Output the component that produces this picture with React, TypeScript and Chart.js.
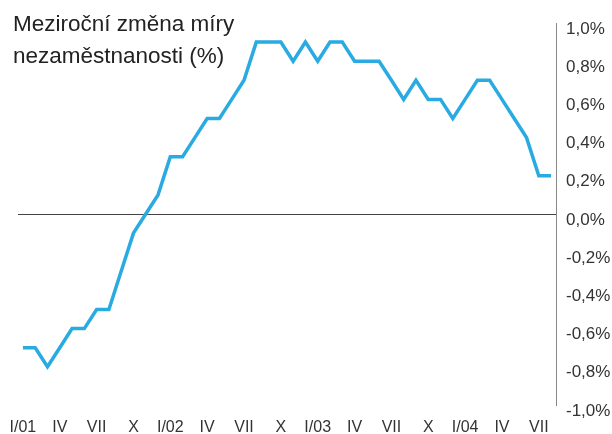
import React, { useEffect, useRef } from 'react';
import { Chart, registerables } from 'chart.js';

Chart.register(...registerables);

const months: string[] = [
  'I/01', 'II', 'III', 'IV', 'V', 'VI', 'VII', 'VIII', 'IX', 'X', 'XI', 'XII',
  'I/02', 'II', 'III', 'IV', 'V', 'VI', 'VII', 'VIII', 'IX', 'X', 'XI', 'XII',
  'I/03', 'II', 'III', 'IV', 'V', 'VI', 'VII', 'VIII', 'IX', 'X', 'XI', 'XII',
  'I/04', 'II', 'III', 'IV', 'V', 'VI', 'VII', 'VIII',
];

const values: number[] = [
  -0.7, -0.7, -0.8, -0.7, -0.6, -0.6, -0.5, -0.5, -0.3, -0.1, 0.0, 0.1,
  0.3, 0.3, 0.4, 0.5, 0.5, 0.6, 0.7, 0.9, 0.9, 0.9, 0.8, 0.9,
  0.8, 0.9, 0.9, 0.8, 0.8, 0.8, 0.7, 0.6, 0.7, 0.6, 0.6, 0.5,
  0.6, 0.7, 0.7, 0.6, 0.5, 0.4, 0.2, 0.2,
];

const yMin = -1.0;
const yMax = 1.0;
const yStep = 0.2;
const xTickEvery = 3;

const titleLines: string[] = ['Meziroční změna míry', 'nezaměstnanosti (%)'];

const FONT = "'Liberation Sans', Arial, Helvetica, sans-serif";

export default function App() {
  const ref = useRef<HTMLCanvasElement | null>(null);

  useEffect(() => {
    if (!ref.current) return;
    const chart = new Chart(ref.current, {
      type: 'line',
      data: {
        datasets: [
          {
            data: values.map((v, i) => ({ x: i, y: v })),
            borderColor: '#29abe2',
            borderWidth: 3.5,
            pointRadius: 0,
            tension: 0,
            borderJoinStyle: 'miter',
            fill: false,
          },
        ],
      },
      options: {
        animation: false,
        responsive: false,
        devicePixelRatio: 1,
        layout: { padding: { left: 18, top: 23, right: 0, bottom: 0 } },
        plugins: {
          legend: { display: false },
          tooltip: { enabled: false },
          title: { display: false },
        },
        scales: {
          x: {
            type: 'linear',
            min: -0.4,
            max: months.length - 1 + 0.4,
            afterBuildTicks: (scale: any) => {
              scale.ticks = months
                .map((_, i) => i)
                .filter((i) => i % xTickEvery === 0)
                .map((i) => ({ value: i }));
            },
            afterFit: (scale: any) => {
              scale.height = 29;
              scale.paddingLeft = 0;
              scale.paddingRight = 0;
            },
            grid: { display: false, drawTicks: false },
            border: { display: false },
            ticks: {
              autoSkip: false,
              maxRotation: 0,
              padding: 13,
              color: '#333',
              font: { family: FONT, size: 16 },
              callback: (v: any) => months[Number(v)] ?? '',
            },
          },
          y: {
            type: 'linear',
            position: 'right',
            min: yMin,
            max: yMax,
            afterFit: (scale: any) => {
              scale.width = 56;
              scale.paddingTop = 0;
              scale.paddingBottom = 0;
            },
            grid: {
              drawTicks: false,
              color: (ctx: any) =>
                ctx.tick && Math.abs(ctx.tick.value) < 1e-9 ? '#444' : 'rgba(0,0,0,0)',
              lineWidth: 1,
            },
            border: { display: true, color: '#888', width: 1 },
            ticks: {
              stepSize: yStep,
              padding: 10,
              labelOffset: 6,
              color: '#333',
              font: { family: FONT, size: 17 },
              callback: (v: any) => Number(v).toFixed(1).replace('.', ',') + '%',
            },
          },
        },
      },
    });
    return () => chart.destroy();
  }, []);

  return (
    <div style={{ position: 'absolute', left: 0, top: 0, width: 612, height: 434, background: '#fff' }}>
      <canvas ref={ref} width={612} height={434} style={{ display: 'block' }} />
      <div
        style={{
          position: 'absolute',
          left: 13,
          top: 8,
          fontFamily: FONT,
          fontSize: 22.5,
          lineHeight: '31.5px',
          color: '#222',
          whiteSpace: 'nowrap',
        }}
      >
        {titleLines.map((t, i) => (
          <div key={i}>{t}</div>
        ))}
      </div>
    </div>
  );
}
